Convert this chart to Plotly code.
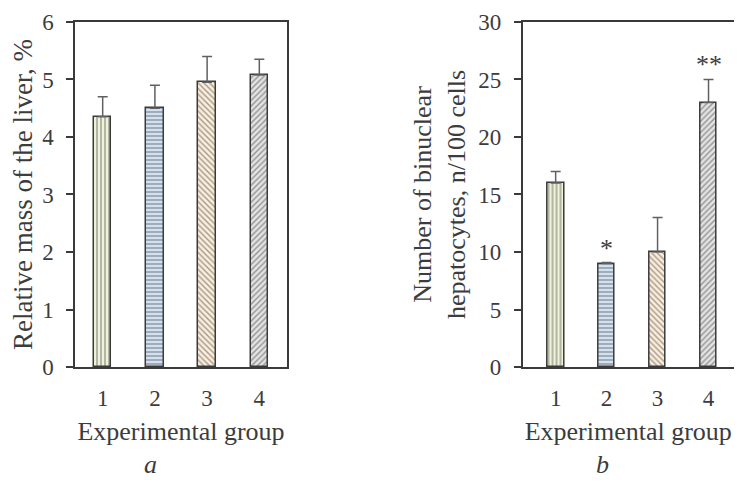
import plotly.graph_objects as go
from plotly.subplots import make_subplots

groups = [1, 2, 3, 4]
group_labels = ["1", "2", "3", "4"]
liver_mass = [4.35, 4.5, 4.95, 5.08]
liver_mass_err = [0.35, 0.4, 0.45, 0.27]
binuclear = [16, 9, 10, 23]
binuclear_err = [1, 0.08, 3, 2]
signif = ["", "*", "", "**"]

pat_shapes = ["|", "-", "\\", "/"]
pat_fg = ["#c5d69c", "#7aa0cc", "#f2c48e", "#6e6e6e"]
pat_bg = ["#eef3d9", "#d3e2f2", "#fdeedb", "#e3e3e3"]

FONT = "Liberation Serif"
TXT = "#3c3c3c"
LINE = "#3a3a3a"

# page body adds an 8px margin, so the figure is drawn at (8, 8)
W, H = 734, 474

fig = make_subplots(rows=1, cols=2)

def add_bars(y, err, col):
    fig.add_trace(go.Bar(
        x=groups, y=y, width=0.33,
        marker=dict(
            color=pat_bg,
            line=dict(color=LINE, width=1.5),
            pattern=dict(shape=pat_shapes, fgcolor=pat_fg, bgcolor=pat_bg,
                         size=4, solidity=0.35, fillmode="overlay"),
        ),
        error_y=dict(type="data", array=err, arrayminus=[0]*len(err),
                     symmetric=False, color="#606060", thickness=1.5, width=5),
        showlegend=False,
    ), row=1, col=col)

add_bars(liver_mass, liver_mass_err, 1)
add_bars(binuclear, binuclear_err, 2)

for g, v, e, s in zip(groups, binuclear, binuclear_err, signif):
    if s:
        fig.add_annotation(x=g, y=v + e, xref="x2", yref="y2", text=s,
                           showarrow=False, yanchor="bottom", yshift=-2,
                           font=dict(family=FONT, size=26, color=TXT))

axis_common = dict(showline=True, mirror=True, linecolor=LINE, linewidth=1.5,
                   showgrid=False, zeroline=False, automargin=False,
                   tickfont=dict(family=FONT, size=23, color=TXT))

fig.update_xaxes(**axis_common, tickvals=groups, ticktext=group_labels,
                 ticks="", ticklabelstandoff=10,
                 title=dict(text="Experimental group", standoff=11,
                            font=dict(family=FONT, size=26, color=TXT)))
fig.update_xaxes(range=[0.47, 4.53], domain=[0.0913, 0.3801], row=1, col=1)
fig.update_xaxes(range=[0.35, 4.5], domain=[0.7010, 0.9891], row=1, col=2)

fig.update_yaxes(**axis_common, ticks="outside", ticklen=7, tickwidth=1.5,
                 tickcolor=LINE, ticklabelstandoff=8)
fig.update_yaxes(range=[0, 6], dtick=1, domain=[0.2426, 0.9705], row=1, col=1,
                 title=dict(text="Relative mass of the liver, %", standoff=6,
                            font=dict(family=FONT, size=27, color=TXT)))
fig.update_yaxes(range=[0, 30], dtick=5, domain=[0.2426, 0.9705], row=1, col=2,
                 title=dict(text="Number of binuclear<br>hepatocytes, n/100 cells",
                            standoff=5,
                            font=dict(family=FONT, size=26, color=TXT)))

fig.add_annotation(x=0.1948, y=0.037, xref="paper", yref="paper", text="<i>a</i>",
                   showarrow=False, xanchor="center", yanchor="middle",
                   font=dict(family=FONT, size=26, color=TXT))
fig.add_annotation(x=0.8106, y=0.037, xref="paper", yref="paper", text="<i>b</i>",
                   showarrow=False, xanchor="center", yanchor="middle",
                   font=dict(family=FONT, size=26, color=TXT))

fig.update_layout(width=W, height=H, margin=dict(l=0, r=0, t=0, b=0),
                  plot_bgcolor="white", paper_bgcolor="white", bargap=0)

fig.write_html("out.html")
